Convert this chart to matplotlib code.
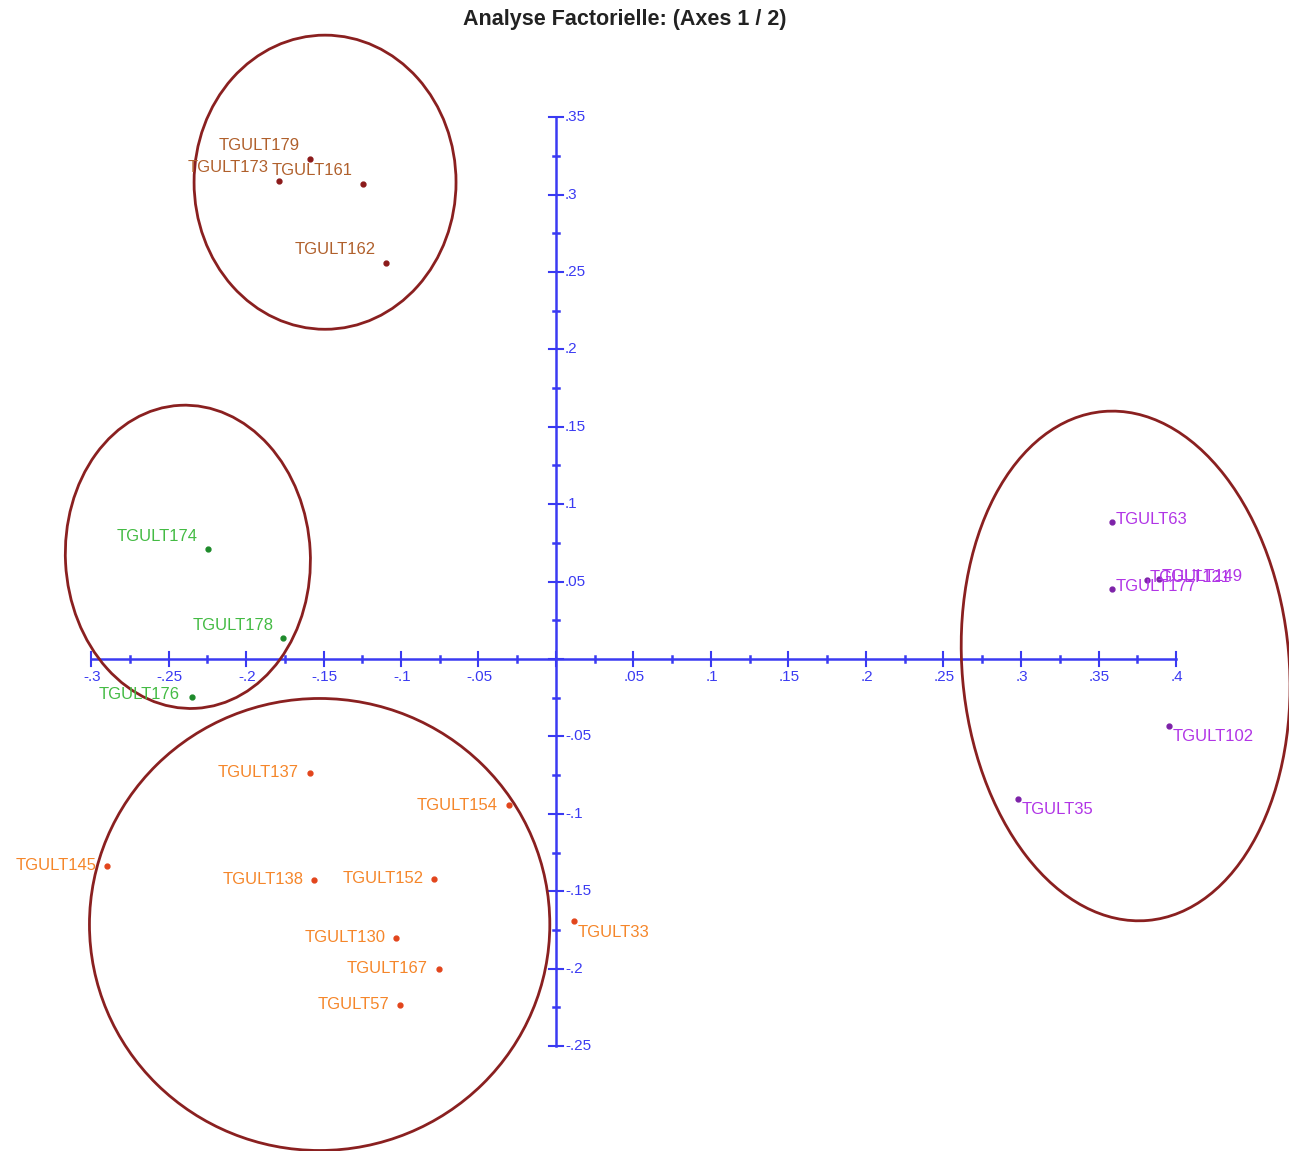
import numpy as np
import matplotlib
matplotlib.use('Agg')
import matplotlib.pyplot as plt
from matplotlib.patches import Ellipse

# coordonnees factorielles (axe 1, axe 2)
brown_names = ['TGULT179', 'TGULT173', 'TGULT161', 'TGULT162']
brown_x = [-0.159, -0.179, -0.1245, -0.110]
brown_y = [0.323, 0.309, 0.307, 0.256]

green_names = ['TGULT174', 'TGULT178', 'TGULT176']
green_x = [-0.2245, -0.176, -0.235]
green_y = [0.071, 0.0135, -0.0245]

purple_names = ['TGULT63', 'TGULT177', 'TGULT121', 'TGULT149', 'TGULT102', 'TGULT35']
purple_x = [0.3585, 0.3585, 0.381, 0.389, 0.3955, 0.298]
purple_y = [0.0885, 0.0455, 0.051, 0.0515, -0.0435, -0.0905]

orange_names = ['TGULT137', 'TGULT154', 'TGULT145', 'TGULT138', 'TGULT152',
                'TGULT130', 'TGULT167', 'TGULT57', 'TGULT33']
orange_x = [-0.159, -0.0305, -0.2895, -0.156, -0.0785, -0.103, -0.0755, -0.1005, 0.0115]
orange_y = [-0.0735, -0.0945, -0.1335, -0.1425, -0.142, -0.180, -0.200, -0.2235, -0.169]

# ellipses de regroupement: centre x, centre y, largeur, hauteur, angle
groups_cx = [-0.149, -0.2375, -0.1525, 0.3675]
groups_cy = [0.308, 0.066, -0.1715, -0.0045]
groups_w = [0.169, 0.158, 0.297, 0.211]
groups_h = [0.190, 0.196, 0.292, 0.330]
groups_ang = [0, 3, 0, 5]

xticks = [-0.3, -0.25, -0.2, -0.15, -0.1, -0.05, 0.05, 0.1, 0.15, 0.2, 0.25, 0.3, 0.35, 0.4]
yticks = [-0.25, -0.2, -0.15, -0.1, -0.05, 0.05, 0.1, 0.15, 0.2, 0.25, 0.3, 0.35]

def fmt(v):
    s = ('%g' % v)
    return s.replace('0.', '.')

axis_col = '#3a3af2'
ell_col = '#8a2020'
plt.rcParams['font.family'] = ['Liberation Sans', 'DejaVu Sans']

fig = plt.figure(figsize=(12.89, 11.51), dpi=100)
ax = fig.add_axes([0, 0, 1, 1])
ax.set_xlim(-556 / 1550, (1289 - 556) / 1550)
ax.set_ylim((659 - 1151) / 1548, 659 / 1548)
ax.axis('off')

# axes en croix
ax.plot([-0.3, 0.4], [0, 0], color=axis_col, lw=1.8, zorder=2)
ax.plot([0, 0], [-0.25, 0.35], color=axis_col, lw=1.8, zorder=2)
maj = 0.0045
mnr = 0.002
for t in np.arange(-0.3, 0.4001, 0.05):
    ax.plot([t, t], [-maj, maj], color=axis_col, lw=1.5, zorder=2)
for t in np.arange(-0.275, 0.4, 0.05):
    ax.plot([t, t], [-mnr, mnr], color=axis_col, lw=1.8, zorder=2)
for t in np.arange(-0.25, 0.3501, 0.05):
    ax.plot([-maj, maj], [t, t], color=axis_col, lw=1.5, zorder=2)
for t in np.arange(-0.225, 0.35, 0.05):
    ax.plot([-mnr, mnr], [t, t], color=axis_col, lw=1.8, zorder=2)
for t in xticks:
    ax.annotate(fmt(t), (t, 0), xytext=(1, -18), textcoords='offset pixels',
                ha='center', va='center', color=axis_col, fontsize=11)
for t in yticks:
    ax.annotate(fmt(t), (0, t), xytext=(9, 0), textcoords='offset pixels',
                ha='left', va='center', color=axis_col, fontsize=11)

# placement des etiquettes (pixels)
special = {'TGULT176': (-12, 2, 'right'),
           'TGULT33': (4, -12, 'left'),
           'TGULT102': (4, -10, 'left'),
           'TGULT35': (4, -10, 'left'),
           'TGULT63': (4, 3, 'left'),
           'TGULT177': (4, 2, 'left'),
           'TGULT121': (3, 3, 'left'),
           'TGULT149': (3, 3, 'left')}

series = [
    (brown_names, brown_x, brown_y, '#b0602c', '#8b1a1a', (-10, 13, 'right')),
    (green_names, green_x, green_y, '#44bb44', '#1d8a2a', (-10, 13, 'right')),
    (purple_names, purple_x, purple_y, '#b135e6', '#7d22a8', (4, 0, 'left')),
    (orange_names, orange_x, orange_y, '#f5862a', '#e2451c', (-11, 0, 'right')),
]
for names, xs, ys, tcol, dcol, default in series:
    ax.plot(xs, ys, 'o', color=dcol, ms=3.5, zorder=4)
    for n, x, y in zip(names, xs, ys):
        dx, dy, ha = special.get(n, default)
        ax.annotate(n, (x, y), xytext=(dx, dy), textcoords='offset pixels',
                    ha=ha, va='center', color=tcol, fontsize=12, zorder=5)

for cx, cy, w, h, a in zip(groups_cx, groups_cy, groups_w, groups_h, groups_ang):
    ax.add_patch(Ellipse((cx, cy), w, h, angle=a, fill=False,
                         edgecolor=ell_col, lw=2.0, zorder=3))

fig.text(0.4845, 1 - 19 / 1151, 'Analyse Factorielle: (Axes 1 / 2)', ha='center',
         va='center', fontsize=15.5, fontweight='bold', color='#222222')

fig.savefig('out.png', dpi=100)
